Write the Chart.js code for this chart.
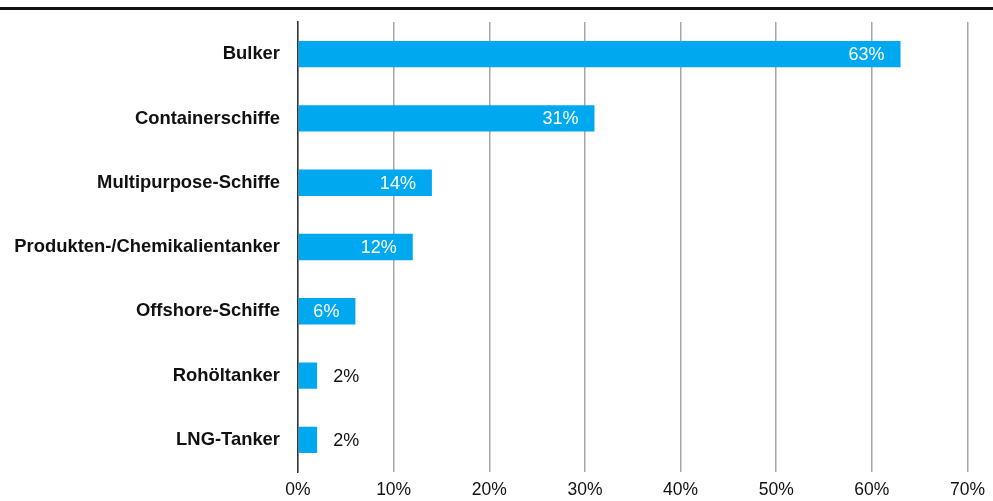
<!DOCTYPE html>
<html>
<head>
<meta charset="utf-8">
<script src="https://cdn.jsdelivr.net/npm/chart.js@4.4.1/dist/chart.umd.min.js"></script>
<style>
  html, body { margin: 0; padding: 0; background: #fff; }
  #wrap { width: 993px; height: 501px; position: relative; }
</style>
</head>
<body>
<div id="wrap"><canvas id="c" width="993" height="501"></canvas></div>
<script>
// Schiffstypen und Anteile (in %)
const categories = [
  'Bulker',
  'Containerschiffe',
  'Multipurpose-Schiffe',
  'Produkten-/Chemikalientanker',
  'Offshore-Schiffe',
  'Rohöltanker',
  'LNG-Tanker'
];
const shares = [63, 31, 14, 12, 6, 2, 2];
const xTicks = [0, 10, 20, 30, 40, 50, 60, 70];

const FONT = '"Liberation Sans", Arial, Helvetica, sans-serif';
const BAR_COLOR = '#00a8f0';

// Horizontal rule above the chart
const topRule = {
  id: 'topRule',
  beforeDraw(chart) {
    const ctx = chart.ctx;
    ctx.save();
    ctx.fillStyle = '#111';
    ctx.fillRect(0, 7, chart.width, 3);
    ctx.restore();
  }
};

// Value labels: white inside long bars, black next to short bars
const valueLabels = {
  id: 'valueLabels',
  afterDatasetsDraw(chart) {
    const ctx = chart.ctx;
    const meta = chart.getDatasetMeta(0);
    ctx.save();
    ctx.font = '18px ' + FONT;
    ctx.textBaseline = 'middle';
    meta.data.forEach((bar, i) => {
      const v = shares[i];
      const txt = v + '%';
      if (v >= 5) {
        ctx.fillStyle = '#fff';
        ctx.textAlign = 'right';
        ctx.fillText(txt, bar.x - 16, bar.y + 1);
      } else {
        ctx.fillStyle = '#111';
        ctx.textAlign = 'left';
        ctx.fillText(txt, bar.x + 16, bar.y + 1);
      }
    });
    ctx.restore();
  }
};

new Chart(document.getElementById('c'), {
  type: 'bar',
  data: {
    labels: categories,
    datasets: [{
      data: shares,
      backgroundColor: BAR_COLOR,
      borderWidth: 0,
      barPercentage: 0.41,
      categoryPercentage: 1.0
    }]
  },
  options: {
    indexAxis: 'y',
    responsive: false,
    animation: false,
    layout: { padding: { top: 22, right: 25, left: 0, bottom: 0 } },
    plugins: {
      legend: { display: false },
      tooltip: { enabled: false }
    },
    scales: {
      x: {
        min: 0,
        max: 70,
        afterBuildTicks(scale) {
          scale.ticks = xTicks.map(v => ({ value: v }));
        },
        afterFit(scale) { scale.height = 29; },
        grid: {
          color: '#a6a6a6',
          lineWidth: 1.5,
          drawTicks: false
        },
        border: { display: false },
        ticks: {
          padding: 8,
          color: '#111',
          font: { family: FONT, size: 17.5 },
          callback: v => v + '%'
        }
      },
      y: {
        afterFit(scale) {
          scale.width = 298;
          scale.paddingTop = 0;
          scale.paddingBottom = 0;
        },
        grid: { display: false, drawTicks: false },
        border: { display: true, color: '#333', width: 1.5 },
        ticks: {
          padding: 18,
          color: '#111',
          font: { family: FONT, size: 18.4, weight: 'bold' }
        }
      }
    }
  },
  plugins: [topRule, valueLabels]
});
</script>
</body>
</html>
